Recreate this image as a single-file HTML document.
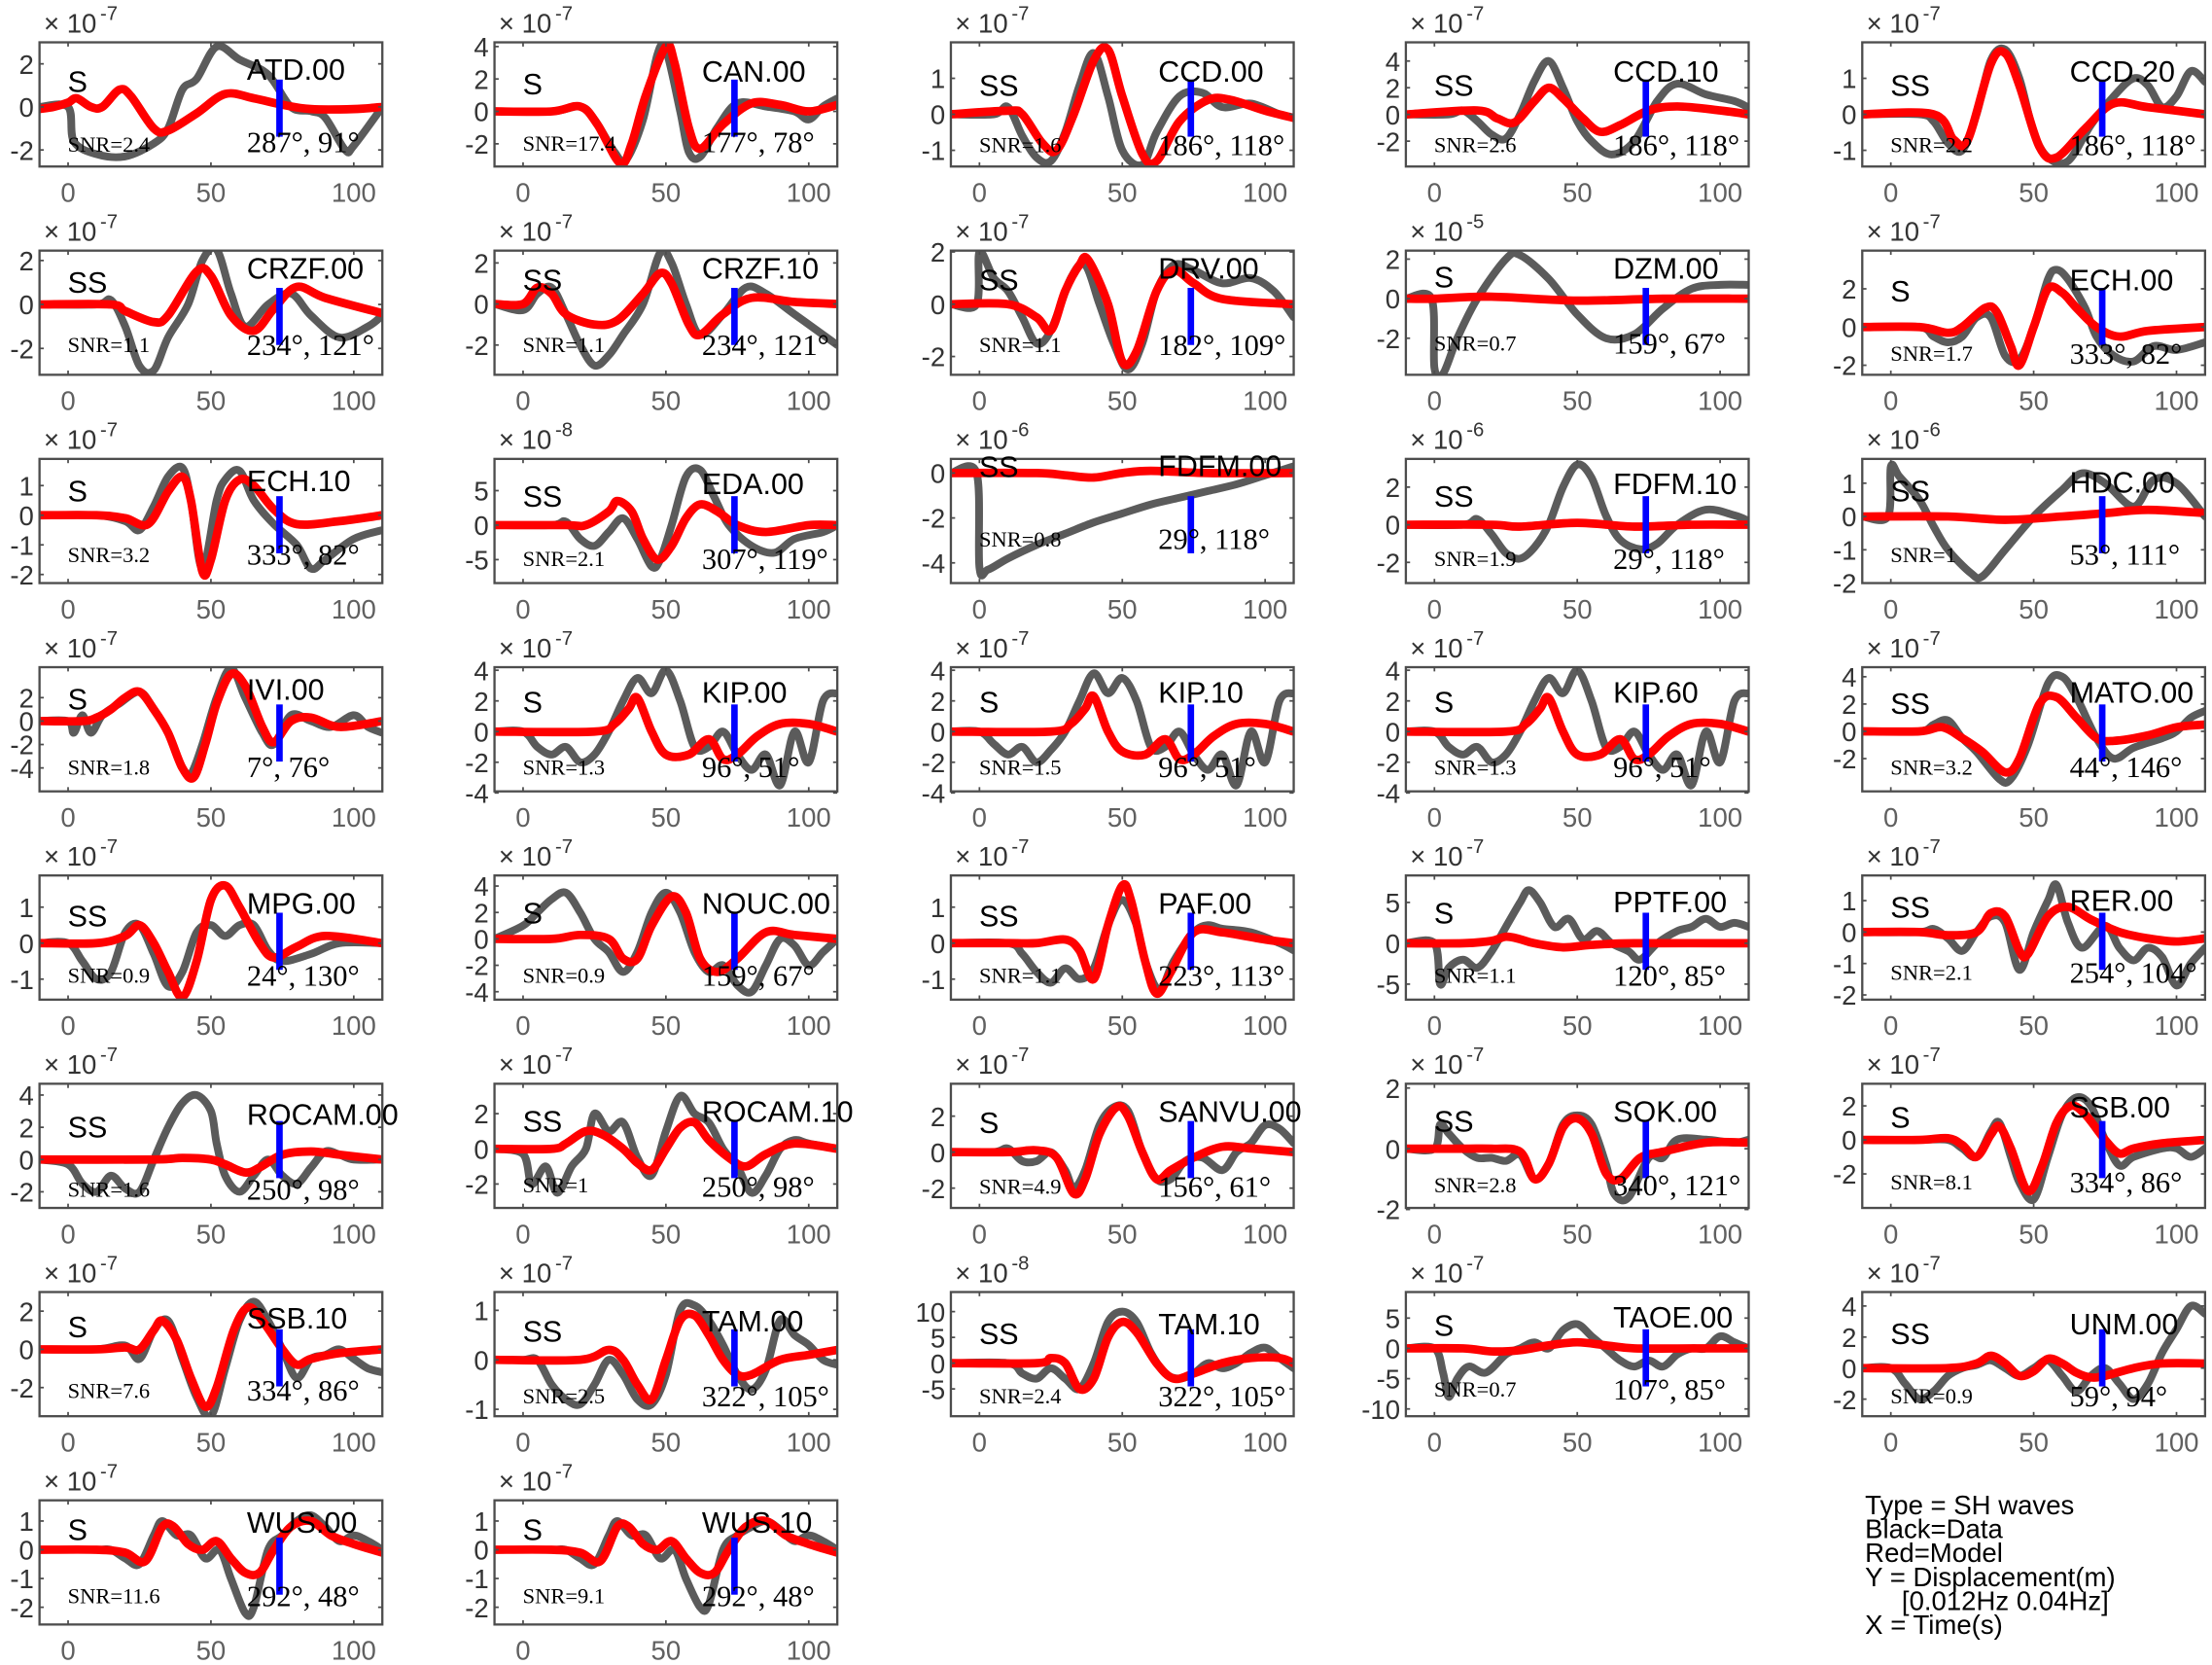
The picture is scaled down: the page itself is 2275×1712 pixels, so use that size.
<!DOCTYPE html>
<html><head><meta charset="utf-8">
<style>html,body{margin:0;padding:0;background:#fff}svg{display:block}</style>
</head><body>
<svg id="s" xmlns="http://www.w3.org/2000/svg" width="2275" height="1712" viewBox="0 0 1567.9 1179.9"></svg>
<script>
var P=[
["ATD.00","S","2.4","287°, 91°",-7,[-2,0,2],-2.77,3.0,[35,26.5,77.5,78],
[[-10,0],[0,0],[2,-1.6],[10,-2.2],[20,-2.3],[30,-1.7],[35,-1],[40,0.8],[45,1.3],[52,2.8],[60,2.2],[70,1.5],[78,0],[85,-0.2],[90,-0.5],[97,-2],[100,-1.8],[110,0]],
[[-10,-0.1],[-5,0],[0,0.2],[3,0.4],[8,0],[12,0],[18,0.8],[22,0.5],[30,-1],[35,-1.1],[45,-0.3],[55,0.6],[65,0.4],[75,0.1],[85,-0.1],[100,-0.1],[110,0]]],
["CAN.00","S","17.4","177°, 78°",-7,[-2,0,2,4],-3.4,4.26,[37,28,77,78],
[[-10,0],[10,0],[20,0.3],[25,-0.5],[32,-2.5],[36,-3],[42,-0.5],[47,3.5],[50,3.8],[55,0],[58,-2.5],[62,-2.8],[68,-1],[75,0.5],[85,0.3],[95,0],[100,-0.5],[105,0.3],[110,0.8]],
[[-10,0],[10,0],[20,0.3],[26,-0.8],[34,-3.2],[38,-2],[43,1],[50,4],[53,3],[58,-1],[62,-2.3],[70,-0.8],[80,0.5],[90,0.4],[100,0],[110,0.4]]],
["CCD.00","SS","1.6","186°, 118°",-7,[-1,0,1],-1.45,2.0,[38,28,78,80],
[[-10,0],[5,0],[10,0.2],[15,-0.6],[20,-1.2],[25,-1.3],[30,-0.5],[35,0.8],[40,1.7],[45,0.5],[50,-1],[57,-1.4],[62,-0.5],[70,0.5],[78,0.6],[85,0.2],[95,0.3],[105,0],[110,-0.1]],
[[-10,0],[10,0.1],[15,0],[22,-0.8],[27,-1],[33,0],[40,1.5],[45,1.8],[50,0.5],[57,-1.1],[62,-1.3],[70,-0.2],[80,0.4],[88,0.4],[100,0.1],[110,-0.1]]],
["CCD.10","SS","2.6","186°, 118°",-7,[-2,0,2,4],-3.9,5.4,[38,28,78,80],
[[-10,0],[5,0],[10,0.3],[15,-0.5],[20,-1.5],[25,-1.8],[30,0],[35,2.5],[40,4],[45,2],[50,-0.5],[55,-2],[62,-3],[70,-2],[78,1],[85,2.3],[95,1.5],[105,1],[110,0.5]],
[[-10,0],[15,0.3],[22,-0.3],[28,-0.6],[35,1],[40,2],[45,1.2],[52,-0.3],[58,-1.3],[65,-0.8],[75,0.3],[85,0.6],[100,0.3],[110,0]]],
["CCD.20","SS","2.2","186°, 118°",-7,[-1,0,1],-1.45,2.0,[38,28,78,80],
[[-10,0],[10,0],[15,-0.2],[20,-0.8],[25,-1],[30,0],[35,1.5],[40,1.8],[45,1],[50,-0.5],[55,-1.2],[62,-1.3],[70,-0.3],[78,0.5],[85,1],[90,0.8],[95,0.2],[100,0.5],[105,1.2],[110,0.9]],
[[-10,0],[15,0],[22,-0.7],[27,-0.7],[35,1.4],[40,1.7],[45,0.8],[52,-0.9],[58,-1.2],[68,-0.4],[78,0.3],[90,0.2],[110,0]]],
["CRZF.00","SS","1.1","234°, 121°",-7,[-2,0,2],-3.2,2.45,[30,20,72,74],
[[-10,0],[10,0],[15,0.2],[20,-1],[25,-2.8],[30,-3],[35,-1.5],[42,0],[47,2],[52,2.5],[57,0.5],[62,-1],[70,0],[78,0.5],[85,-0.5],[95,-1.5],[105,-1],[110,-0.5]],
[[-10,0],[15,0],[20,-0.3],[30,-0.8],[35,-0.5],[45,1.5],[50,1.3],[57,-0.5],[65,-1.2],[72,-0.2],[80,0.8],[90,0.3],[110,-0.4]]],
["CRZF.10","SS","1.1","234°, 121°",-7,[-2,0,2],-3.45,2.6,[28,20,72,74],
[[-10,0],[0,-0.3],[5,0.5],[10,0.8],[15,-0.5],[20,-2],[25,-3],[30,-2.5],[35,-1.5],[42,0],[48,2.5],[52,2],[57,0],[62,-1.5],[70,-0.5],[78,0.8],[85,0.5],[95,-0.5],[105,-1.5],[110,-2]],
[[-10,0],[0,0],[5,0.8],[10,0.5],[15,-0.5],[25,-1],[33,-0.8],[42,0.5],[48,1.5],[52,1],[58,-1],[62,-1.5],[70,-0.5],[80,0.3],[95,0.1],[110,0]]],
["DRV.00","SS","1.1","182°, 109°",-7,[-2,0,2],-2.7,2.05,[28,20,72,74],
[[-10,0],[-1,0],[0,2],[5,1],[10,0.5],[15,-0.5],[20,-1.5],[25,-1],[32,1],[37,1.5],[42,0],[47,-1.5],[52,-2.5],[57,-1.5],[62,0.5],[68,1.5],[75,1.3],[85,0.8],[95,1],[103,0.5],[110,-0.5]],
[[-10,0],[10,0],[20,-0.5],[25,-1],[30,0.5],[35,1.5],[38,1.7],[45,0],[50,-2.2],[55,-1.8],[62,0.5],[68,1.3],[75,0.8],[85,0.2],[110,0]]],
["DZM.00","S","0.7","159°, 67°",-5,[-2,0,2],-3.85,2.43,[26,20,71,73],
[[-10,0],[-1,0],[0,-3.5],[3,-3.8],[8,-2],[15,0],[25,2],[30,2.2],[40,1],[50,-0.8],[60,-2],[70,-1.8],[80,-0.5],[90,0.5],[100,0.7],[110,0.7]],
[[-10,0],[0,0],[20,0.1],[50,-0.1],[80,0],[110,0]]],
["ECH.00","S","1.7","333°, 82°",-7,[-2,0,2],-2.5,4.0,[36,28,78,80],
[[-10,0],[10,0],[15,-0.5],[20,-0.8],[25,-0.5],[30,0.5],[35,0.5],[40,-1.5],[45,-1.7],[50,0],[55,2.5],[58,3],[62,2.5],[68,1],[72,-0.5],[78,-1.5],[85,-1.8],[92,-1],[100,-1.2],[110,-0.8]],
[[-10,0],[10,0],[20,-0.3],[25,0],[33,1],[37,0.8],[42,-1],[45,-2],[50,0],[55,2],[60,1.8],[65,1],[72,0],[80,-0.5],[90,-0.2],[110,0]]],
["ECH.10","S","3.2","333°, 82°",-7,[-2,-1,0,1],-2.29,1.9,[30,23,73,75],
[[-10,0],[10,0],[20,-0.2],[25,-0.5],[30,0.3],[35,1.3],[40,1.6],[43,0.5],[47,-1.8],[52,0.5],[55,1.2],[60,1.5],[65,0.5],[72,-0.3],[80,-1],[85,-1.8],[90,-1.5],[100,-0.8],[110,-0.5]],
[[-10,0],[10,0],[20,-0.1],[28,-0.3],[35,0.8],[40,1.3],[43,0.5],[47,-1.9],[50,-1.5],[55,0.5],[60,1.2],[65,1],[72,0.2],[80,-0.3],[95,-0.2],[110,0]]],
["EDA.00","SS","2.1","307°, 119°",-8,[-5,0,5],-8.4,9.6,[34,25,76,78],
[[-10,0],[10,0],[15,0.5],[20,-2],[25,-3],[30,-1],[35,1],[40,-2],[45,-6],[48,-5],[52,0],[57,7],[62,8],[67,4],[72,0],[80,-3],[88,-4],[95,-2],[105,-1],[110,0]],
[[-10,0],[15,0],[22,0],[30,2],[33,3.5],[38,2],[42,-2],[47,-5],[52,-3],[57,1],[62,3],[68,2],[75,0],[85,-1],[100,0],[110,0]]],
["FDFM.00","SS","0.8","29°, 118°",-6,[-4,-2,0],-4.9,0.63,[13,12,62,64],
[[-10,0],[-1,0],[0,-4.2],[3,-4.3],[10,-3.8],[20,-3.2],[30,-2.7],[40,-2.2],[50,-1.8],[60,-1.4],[70,-1.1],[80,-0.8],[90,-0.5],[100,-0.1],[110,0.3]],
[[-10,0],[20,0],[30,-0.1],[40,-0.2],[50,0],[60,0.1],[80,0],[110,0]]],
["FDFM.10","SS","1.9","29°, 118°",-6,[-2,0,2],-3.1,3.5,[34,25,76,78],
[[-10,0],[10,0],[15,0.3],[20,-0.5],[25,-1.5],[30,-1.8],[35,-1.2],[40,0],[45,2],[50,3.2],[55,2.5],[60,0.5],[65,-0.8],[72,-1.3],[78,-1],[85,0],[95,0.8],[105,0.5],[110,0.2]],
[[-10,0],[20,0],[30,-0.1],[50,0.1],[70,-0.1],[90,0],[110,0]]],
["HDC.00","SS","1","53°, 111°",-6,[-2,-1,0,1],-2.0,1.73,[30,24,73,75],
[[-10,0],[-1,0],[0,1.5],[3,1.2],[10,0.5],[15,-0.3],[20,-1],[28,-1.7],[32,-1.8],[40,-1],[50,0],[60,0.8],[67,1.3],[75,1],[85,0.3],[92,1.1],[100,1],[110,0]],
[[-10,0],[20,0],[40,-0.1],[60,0],[75,0.1],[90,0.2],[110,0.1]]],
["IVI.00","S","1.8","7°, 76°",-7,[-4,-2,0,2],-6.0,4.6,[30,23,76,78],
[[-10,0],[0,0],[2,-1],[5,0.5],[8,-1],[12,0.5],[18,1.5],[25,2.5],[30,1],[35,-1],[40,-4],[43,-4.5],[47,-2],[52,2],[57,4.5],[62,2],[68,-1],[72,-2],[78,0.5],[85,0],[92,-0.5],[100,0.5],[105,-0.5],[110,-1]],
[[-10,0],[5,0],[10,0.3],[15,1],[20,2],[25,2.5],[30,1],[35,-1],[40,-4],[44,-4.8],[48,-2],[52,1.5],[57,4],[62,3],[68,-0.5],[72,-1.8],[78,0],[85,0.3],[95,-0.5],[110,0]]],
["KIP.00","S","1.3","96°, 51°",-7,[-4,-2,0,2,4],-3.9,4.2,[32,25,76,78],
[[-10,0],[0,0],[5,-1],[10,-1.5],[15,-1],[20,-2],[25,-1.5],[30,0],[35,2],[40,3.5],[45,2.5],[50,4],[55,2],[60,-1],[65,-1],[70,0],[75,-1.5],[80,-2.5],[85,-1.5],[90,-3.5],[95,0],[100,-2],[105,2],[110,2.5]],
[[-10,0],[25,0],[32,0.5],[37,1.5],[40,2.2],[45,0],[50,-1.5],[58,-1.5],[65,-0.5],[70,-1.8],[75,-1.5],[82,-0.3],[90,0.5],[100,0.5],[110,0]]],
["KIP.10","S","1.5","96°, 51°",-7,[-4,-2,0,2,4],-3.9,4.2,[32,25,76,78],
[[-10,0],[0,0],[5,-0.8],[10,-1.5],[15,-1],[20,-2],[25,-1.2],[30,0],[35,2],[40,3.8],[45,2.5],[50,3.5],[55,2],[60,-1],[65,-1],[70,0],[75,-1.5],[80,-2.5],[85,-1.5],[90,-3.5],[95,0],[100,-2],[105,2],[110,2.5]],
[[-10,0],[25,0],[32,0.5],[37,1.5],[40,2.3],[45,0],[50,-1.3],[58,-1.5],[65,-0.5],[70,-1.8],[75,-1.5],[82,-0.3],[90,0.5],[100,0.5],[110,0]]],
["KIP.60","S","1.3","96°, 51°",-7,[-4,-2,0,2,4],-3.9,4.2,[32,25,76,78],
[[-10,0],[0,0],[5,-1],[10,-1.5],[15,-1],[20,-2],[25,-1.5],[30,0],[35,2],[40,3.5],[45,2.5],[50,4],[55,2],[60,-1],[65,-1],[70,0],[75,-1.5],[80,-2.5],[85,-1.5],[90,-3.5],[95,0],[100,-2],[105,2],[110,2.5]],
[[-10,0],[25,0],[32,0.5],[37,1.5],[40,2.2],[45,0],[50,-1.5],[58,-1.5],[65,-0.5],[70,-1.8],[75,-1.5],[82,-0.3],[90,0.5],[100,0.5],[110,0]]],
["MATO.00","SS","3.2","44°, 146°",-7,[-2,0,2,4],-4.4,4.7,[33,25,76,78],
[[-10,0],[10,0],[15,0.5],[20,0.8],[25,-0.5],[30,-1.5],[38,-3.5],[42,-3.5],[48,-1],[55,3.5],[60,4],[65,2.5],[72,-0.5],[78,-2],[85,-1.2],[95,-0.5],[100,0],[105,1],[110,1.5]],
[[-10,0],[10,0],[18,0.3],[25,-0.5],[32,-1.5],[40,-3],[45,-2],[52,2],[58,2.5],[65,1],[72,-0.5],[78,-0.7],[90,-0.3],[100,0.3],[110,0.5]]],
["MPG.00","SS","0.9","24°, 130°",-7,[-1,0,1],-1.57,1.88,[36,27,76,78],
[[-10,0],[0,0],[5,-0.5],[10,-1],[15,-0.8],[20,0.3],[25,0.5],[30,-0.3],[35,-1.2],[40,-0.8],[45,0.3],[50,0.5],[55,0.2],[60,0.5],[65,0.5],[70,-0.2],[75,-0.5],[85,-0.3],[95,0],[110,0]],
[[-10,0],[10,0],[20,0.2],[25,0.5],[30,0],[35,-0.8],[40,-1.5],[45,-0.5],[50,1.2],[55,1.6],[60,1],[67,0],[72,-0.4],[80,-0.1],[90,0.2],[110,0]]],
["NOUC.00","S","0.9","159°, 67°",-7,[-4,-2,0,2,4],-4.6,4.8,[34,27,76,78],
[[-10,0],[0,1],[5,2],[10,3],[15,3.5],[20,2],[25,0],[30,-1],[35,-2.5],[40,-1],[45,2],[50,3.5],[55,2],[60,-1],[65,-2.5],[70,-2],[75,-3.5],[80,-4],[85,-2],[90,0],[95,-0.5],[100,-2],[105,-1],[110,0]],
[[-10,0],[10,0],[20,0.3],[30,0],[35,-1.5],[40,-1.5],[45,1],[52,3.2],[57,2],[62,-1.5],[68,-2.5],[75,-1.5],[85,0.5],[95,0.3],[110,0]]],
["PAF.00","SS","1.1","223°, 113°",-7,[-1,0,1],-1.57,1.88,[36,27,76,78],
[[-10,0],[10,0],[15,-0.3],[20,-0.8],[25,-1.1],[30,-0.7],[35,-1],[40,-0.7],[45,0.5],[50,1.2],[55,0.5],[58,-0.5],[63,-1.3],[68,-0.5],[75,0.3],[80,0.5],[85,0.4],[95,0.3],[105,0],[110,-0.2]],
[[-10,0],[10,0],[20,0],[30,0.1],[35,-0.2],[40,-1],[45,0.5],[50,1.6],[53,1.2],[58,-0.5],[62,-1.4],[67,-0.8],[75,0.3],[85,0.3],[100,0.1],[110,0]]],
["PPTF.00","S","1.1","120°, 85°",-7,[-5,0,5],-6.9,8.3,[34,26,76,78],
[[-10,0],[0,0],[2,-5],[5,-3],[10,-2],[15,-3],[20,-1],[25,2],[30,5],[33,6.5],[37,5],[42,2],[47,3],[52,0.5],[57,1.5],[62,0],[68,-1],[72,-2],[78,0],[85,1.5],[90,2],[95,3],[100,2],[105,2.5],[110,2]],
[[-10,0],[10,0],[20,0.3],[25,0.8],[30,0.5],[35,0],[45,-0.5],[55,-0.2],[70,0],[110,0]]],
["RER.00","SS","2.1","254°, 104°",-7,[-2,-1,0,1],-2.15,1.8,[30,25,74,76],
[[-10,0],[10,0],[15,0.1],[20,-0.2],[25,-0.6],[30,0],[35,0.5],[40,0.3],[45,-1.2],[50,0],[55,1],[58,1.5],[62,0.3],[67,-0.5],[75,0.2],[80,-0.5],[85,-0.9],[90,-0.5],[95,-0.8],[100,-1.7],[105,-1],[110,-0.5]],
[[-10,0],[10,0],[20,-0.1],[30,0],[35,0.6],[40,0.5],[45,-0.6],[48,-0.7],[55,0.5],[62,0.8],[70,0.4],[80,0],[90,-0.2],[100,-0.3],[110,-0.2]]],
["ROCAM.00","SS","1.6","250°, 98°",-7,[-2,0,2,4],-3.0,4.7,[38,29,80,82],
[[-10,0],[0,-0.3],[5,-1.5],[10,-2],[15,-1],[20,-1.8],[25,-2],[30,0],[35,2],[40,3.5],[45,4],[50,3],[52,1],[55,-1],[60,-2],[65,-1],[70,0],[75,-1],[80,-1.5],[85,-0.5],[90,0.5],[95,0.3],[100,0],[110,0]],
[[-10,0],[30,0],[40,0.1],[50,0],[55,-0.3],[62,-0.8],[67,-0.5],[75,0.3],[85,0.5],[95,0.3],[110,0]]],
["ROCAM.10","SS","1","250°, 98°",-7,[-2,0,2],-3.36,3.7,[34,27,77,80],
[[-10,0],[0,-0.3],[3,-2],[8,-1],[12,-2.5],[17,-1],[22,0],[25,2],[30,1],[35,1.5],[40,-0.5],[45,-1.5],[50,1],[55,3],[60,2],[65,1.5],[70,0],[75,-1],[80,-2.5],[85,-1.5],[90,0],[95,0.5],[100,0.3],[110,0]],
[[-10,0],[10,0],[15,0.3],[22,1],[28,0.8],[35,0],[40,-0.8],[45,-1.2],[50,0],[55,1.2],[60,1.5],[65,0.5],[72,-0.5],[78,-1],[85,-0.3],[95,0.3],[110,0]]],
["SANVU.00","S","4.9","156°, 61°",-7,[-2,0,2],-3.1,3.8,[35,27,78,80],
[[-10,0],[5,0],[10,0.2],[15,-0.5],[20,-0.5],[25,0],[30,-1],[33,-2],[37,-1],[42,1.5],[47,2.5],[52,2.3],[57,0],[62,-1.5],[67,-1.5],[72,-0.5],[78,-0.3],[85,-1],[90,0],[95,0.5],[100,1.5],[105,1.3],[110,0.5]],
[[-10,0],[10,0],[20,0.1],[27,-0.3],[33,-2.3],[37,-1.5],[42,1],[48,2.5],[52,2],[57,0],[62,-1.5],[67,-1],[75,-0.3],[85,0.3],[95,0.2],[110,0]]],
["SOK.00","SS","2.8","340°, 121°",-7,[-2,0,2],-1.95,2.14,[34,27,77,79],
[[-10,0],[0,0],[2,0.8],[5,0.5],[10,0],[15,-0.3],[20,-0.3],[25,-0.4],[30,-0.2],[35,-1],[40,-0.5],[45,0.8],[50,1.1],[55,0.8],[60,-0.5],[63,-1.5],[68,-1.6],[75,-0.3],[80,-0.3],[85,0.3],[95,0.3],[105,0.2],[110,0.3]],
[[-10,0],[10,0],[20,0],[30,-0.1],[35,-1],[40,-0.5],[45,0.7],[50,1],[55,0.5],[60,-0.8],[65,-1],[72,-0.3],[80,-0.1],[95,0.2],[110,0.2]]],
["SSB.00","S","8.1","334°, 86°",-7,[-2,0,2],-4.0,3.3,[31,24,75,77],
[[-10,0],[10,0],[20,0],[25,-0.5],[30,-1],[35,0.5],[38,1],[42,-1],[45,-2.5],[50,-3.5],[55,-1],[60,1.5],[65,2.5],[70,2],[75,0],[80,-1.5],[85,-1],[95,-0.5],[100,-0.5],[105,-1],[110,-0.5]],
[[-10,0],[10,0],[20,0.1],[25,-0.3],[30,-1],[35,0.3],[38,0.8],[42,-0.5],[48,-3],[53,-1.5],[58,1],[63,2],[68,1.5],[75,0],[80,-0.8],[85,-0.5],[95,-0.2],[110,0]]],
["SSB.10","S","7.6","334°, 86°",-7,[-2,0,2],-3.5,3.0,[32,26,75,77],
[[-10,0],[10,0],[20,0.2],[25,-0.5],[30,1],[35,1.5],[40,-0.5],[45,-2.5],[50,-3.5],[55,-1],[60,1.5],[65,2.5],[70,1.5],[75,0],[80,-1.5],[85,-0.5],[90,-0.3],[95,0],[100,-0.5],[105,-1],[110,-1.2]],
[[-10,0],[10,0],[20,0.1],[25,0],[30,1],[33,1.5],[38,0.5],[43,-1.5],[48,-3],[52,-2],[58,1],[63,2.2],[68,1.5],[75,0],[80,-0.8],[85,-0.5],[95,-0.2],[110,0]]],
["TAM.00","SS","2.5","322°, 105°",-7,[-1,0,1],-1.14,1.37,[35,28,79,81],
[[-10,0],[0,0],[5,0],[10,-0.5],[15,-0.8],[20,-0.9],[25,-0.5],[30,0],[35,-0.3],[40,-0.8],[45,-0.9],[50,-0.3],[55,1],[60,1.1],[65,0.8],[70,0.3],[75,-0.3],[80,-0.6],[85,-0.2],[90,0.8],[95,0.5],[100,0.3],[105,0],[110,-0.1]],
[[-10,0],[20,0],[30,0.2],[35,0],[40,-0.5],[45,-0.8],[50,0],[55,0.8],[60,0.9],[65,0.5],[70,0],[75,-0.3],[80,-0.3],[90,0],[100,0.1],[110,0.2]]],
["TAM.10","SS","2.4","322°, 105°",-8,[-5,0,5,10],-10.3,13.8,[37,30,79,81],
[[-10,0],[10,0],[15,-2],[20,-3],[25,-1],[30,-3],[35,-5],[40,0],[45,8],[50,10],[55,8],[60,2],[65,-2],[70,-3],[75,-2],[80,0],[85,-1],[90,0],[95,2],[100,3],[105,1],[110,-1]],
[[-10,0],[20,0],[25,1],[30,0],[35,-5],[40,-3],[45,5],[50,8],[55,6],[62,0],[68,-3],[75,-2],[85,0],[95,1],[105,1],[110,0]]],
["TAOE.00","S","0.7","107°, 85°",-7,[-10,-5,0,5],-11.2,9.3,[31,25,74,76],
[[-10,0],[0,0],[3,-4],[5,-8],[8,-5],[12,-3],[18,-4],[25,-1],[30,0],[35,1],[40,0],[45,3],[50,4],[55,2],[60,0],[65,-2],[70,-3],[75,-2],[80,-3],[85,-1],[90,0],[95,0],[100,2],[105,1],[110,0]],
[[-10,0],[10,0],[20,-0.5],[30,-0.3],[40,0.5],[50,1],[60,0.5],[70,0],[90,0],[110,0]]],
["UNM.00","SS","0.9","59°, 94°",-7,[-2,0,2,4],-3.1,4.9,[37,30,79,81],
[[-10,0],[0,0],[5,-1],[10,-2],[15,-1.5],[20,-0.5],[25,0],[30,0.2],[35,0.5],[40,0],[45,-0.5],[50,0],[55,0.5],[60,-0.5],[65,-1.5],[70,-0.5],[75,0],[80,-1],[85,-2],[90,-1],[95,1],[100,2.5],[105,4],[110,3.5]],
[[-10,0],[20,0],[30,0.3],[35,0.8],[40,0.3],[45,-0.5],[50,-0.2],[55,0.6],[60,0.3],[65,-0.3],[70,-0.6],[75,-0.5],[85,0],[95,0.3],[110,0.3]]],
["WUS.00","S","11.6","292°, 48°",-7,[-2,-1,0,1],-2.6,1.72,[28,23,73,75],
[[-10,0],[10,0],[15,0],[20,-0.3],[25,-0.5],[30,0.5],[33,1],[38,0.5],[43,0.5],[48,-0.3],[53,0],[57,-1],[62,-2.2],[65,-2],[70,0],[75,0.5],[80,1],[85,1.2],[90,0.8],[95,0.3],[100,0.5],[105,0.3],[110,0]],
[[-10,0],[10,0],[20,-0.1],[27,-0.4],[33,0.8],[37,0.8],[42,0.2],[47,0],[52,0.3],[57,-0.3],[62,-0.8],[67,-0.8],[72,0],[78,0.8],[85,1],[92,0.5],[100,0.2],[110,-0.1]]],
["WUS.10","S","9.1","292°, 48°",-7,[-2,-1,0,1],-2.6,1.72,[28,23,73,75],
[[-10,0],[10,0],[15,0],[20,-0.3],[25,-0.5],[30,0.5],[33,1],[38,0.5],[43,0.5],[48,-0.3],[53,0],[57,-1],[62,-2],[65,-1.9],[70,0],[75,0.5],[80,0.8],[85,1],[90,0.7],[95,0.3],[100,0.5],[105,0.3],[110,0]],
[[-10,0],[10,0],[20,-0.1],[27,-0.4],[33,0.8],[37,0.8],[42,0.2],[47,0],[52,0.3],[57,-0.3],[62,-0.8],[67,-0.8],[72,0],[78,0.8],[85,1],[92,0.5],[100,0.2],[110,-0.1]]]
];
var NS="http://www.w3.org/2000/svg",svg=document.getElementById("s");
function el(t,a,txt,par){var e=document.createElementNS(NS,t);for(var k in a)e.setAttribute(k,a[k]);if(txt!=null)e.textContent=txt;(par||svg).appendChild(e);return e;}
var cols=[28,350.5,674,996.5,1320],rows=[30,177.6,325.2,472.8,620.4,768,915.6,1063.2],W=243,H=88;
var defs=el("defs",{});
function path(pts,X,Y){var p=pts.map(function(q){return [X(q[0]),Y(q[1])];});var d="M"+p[0][0].toFixed(2)+","+p[0][1].toFixed(2);
for(var i=0;i<p.length-1;i++){var p0=p[i-1]||p[i],p1=p[i],p2=p[i+1],p3=p[i+2]||p2;
var c1=[p1[0]+(p2[0]-p0[0])/6,p1[1]+(p2[1]-p0[1])/6],c2=[p2[0]-(p3[0]-p1[0])/6,p2[1]-(p3[1]-p1[1])/6];
d+="C"+c1[0].toFixed(2)+","+c1[1].toFixed(2)+" "+c2[0].toFixed(2)+","+c2[1].toFixed(2)+" "+p2[0].toFixed(2)+","+p2[1].toFixed(2);}return d;}
P.forEach(function(d,i){
 var L=cols[i%5],T=rows[Math.floor(i/5)],B=T+H,R=L+W;
 var X=function(t){return L+(t+10)*W/120;},Y=function(v){return T+(d[7]-v)*H/(d[7]-d[6]);};
 var cp=el("clipPath",{id:"c"+i},null,defs);el("rect",{x:L,y:T,width:W,height:H},null,cp);
 var g=el("g",{"clip-path":"url(#c"+i+")"});
 el("path",{d:path(d[9],X,Y),fill:"none",stroke:"#5b5b5b","stroke-width":5.5,"stroke-linejoin":"round","stroke-linecap":"round"},null,g);
 el("path",{d:path(d[10],X,Y),fill:"none",stroke:"#ff0000","stroke-width":6,"stroke-linejoin":"round","stroke-linecap":"round"},null,g);
 el("rect",{x:X(74)-2.3,y:T+0.3*H,width:4.6,height:0.46*H,fill:"#0000ff"});
 el("rect",{x:L,y:T,width:W,height:H,fill:"none",stroke:"#4d4d4d","stroke-width":1.6});
 [0,50,100].forEach(function(t){var x=X(t);el("line",{x1:x,y1:B,x2:x,y2:B-3,stroke:"#4d4d4d","stroke-width":1.2});el("line",{x1:x,y1:T,x2:x,y2:T+3,stroke:"#4d4d4d","stroke-width":1.2});
  el("text",{x:x,y:B+25,"text-anchor":"middle","font-family":"Liberation Sans, sans-serif","font-size":19,fill:"#606060"},String(t));});
 d[5].forEach(function(v){var y=Y(v);el("line",{x1:L,y1:y,x2:L+3,y2:y,stroke:"#4d4d4d","stroke-width":1.2});el("line",{x1:R,y1:y,x2:R-3,y2:y,stroke:"#4d4d4d","stroke-width":1.2});
  el("text",{x:L-4,y:y+7,"text-anchor":"end","font-family":"Liberation Sans, sans-serif","font-size":19,fill:"#333"},String(v));});
 el("text",{x:L+3,y:T-7,"font-family":"Liberation Sans, sans-serif","font-size":19,fill:"#333"},"× 10");
 el("text",{x:L+43,y:T-16,"font-family":"Liberation Sans, sans-serif","font-size":14,fill:"#333"},String(d[4]));
 var o=d[8],tx=L+147;
 el("text",{x:L+20,y:T+o[0],"font-family":"Liberation Sans, sans-serif","font-size":21,fill:"#000"},d[1]);
 el("text",{x:tx,y:T+o[1],"font-family":"Liberation Sans, sans-serif","font-size":21,fill:"#000"},d[0]);
 el("text",{x:L+20,y:T+o[2],"font-family":"Liberation Serif, serif","font-size":15.5,fill:"#000"},"SNR="+d[2]);
 el("text",{x:tx,y:T+o[3],"font-family":"Liberation Serif, serif","font-size":21,fill:"#000"},d[3]);
});
var lg=[["Type = SH waves",1322],["Black=Data",1322],["Red=Model",1322],["Y = Displacement(m)",1322],["[0.012Hz 0.04Hz]",1348],["X = Time(s)",1322]];
lg.forEach(function(l,k){el("text",{x:l[1],y:1073+k*17,"font-family":"Liberation Sans, sans-serif","font-size":19,fill:"#000"},l[0]);});
</script>
</body></html>
